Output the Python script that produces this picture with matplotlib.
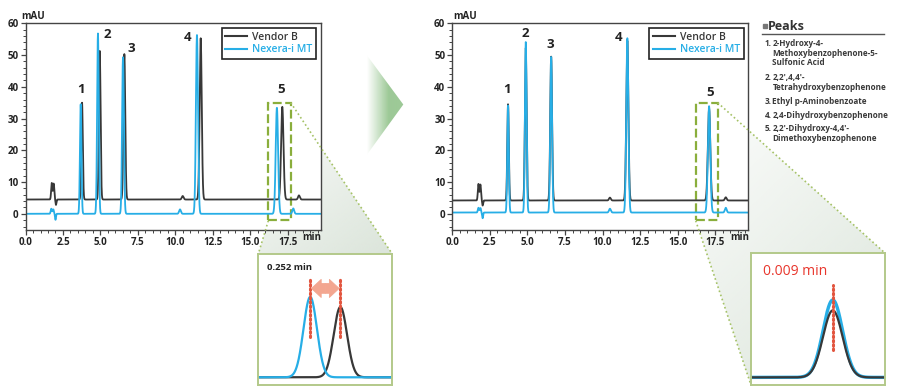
import numpy as np
import matplotlib.pyplot as plt
from matplotlib.patches import Polygon, Rectangle
from matplotlib.lines import Line2D
from matplotlib.ticker import MultipleLocator

plt.rcParams['font.family'] = ['Open Sans', 'DejaVu Sans']
NARROW = ['Liberation Sans Narrow', 'Open Sans', 'DejaVu Sans']

W, H = 900, 392
BLACK = '#383838'
BLUE = '#27aee6'
GREEN = '#8aae3c'
RED = '#e2553f'

# ---- data (retention time min, height mAU) ----
peak_labels = ['1', '2', '3', '4', '5']
peak_w = [0.05, 0.055, 0.06, 0.07, 0.08]

void_w = [0.04, 0.04, 0.03]
minor_w = [0.06, 0.06]

# left: Vendor B vs Nexera-i MT (before method transfer)
left_vb_base = 4.5
left_vb_rt = [3.77, 4.95, 6.59, 11.68, 17.12]
left_vb_h = [30.5, 46.8, 45.8, 50.8, 29.2]
left_vb_void_rt = [1.75, 1.88, 2.03]
left_vb_void_h = [5.2, 5.0, -1.7]
left_vb_minor_rt = [10.48, 18.23]
left_vb_minor_h = [1.1, 1.3]

left_nx_base = 0.0
left_nx_rt = [3.68, 4.83, 6.50, 11.43, 16.76]
left_nx_h = [34.5, 56.8, 49.3, 56.3, 33.4]
left_nx_void_rt = [1.72, 1.85, 2.00]
left_nx_void_h = [1.6, 1.4, -1.9]
left_nx_minor_rt = [10.30, 17.85]
left_nx_minor_h = [1.4, 1.7]

# right: after method transfer
right_vb_base = 4.2
right_vb_rt = [3.71, 4.89, 6.58, 11.65, 17.09]
right_vb_h = [30.3, 48.0, 45.3, 50.3, 29.0]
right_vb_void_rt = [1.74, 1.87, 2.02]
right_vb_void_h = [5.2, 5.0, -1.6]
right_vb_minor_rt = [10.49, 18.20]
right_vb_minor_h = [0.9, 1.0]

right_nx_base = 0.4
right_nx_rt = [3.71, 4.89, 6.58, 11.65, 17.09]
right_nx_h = [33.7, 53.7, 49.0, 54.9, 33.5]
right_nx_void_rt = [1.74, 1.87, 2.02]
right_nx_void_h = [1.5, 1.4, -1.8]
right_nx_minor_rt = [10.49, 18.20]
right_nx_minor_h = [1.2, 1.5]

# peak number label positions (min, mAU)
left_lab_x = [3.70, 5.43, 7.03, 10.83, 17.03]
left_lab_y = [39.3, 56.6, 52.2, 55.4, 39.0]
right_lab_x = [3.63, 4.87, 6.53, 11.07, 17.13]
right_lab_y = [39.2, 56.9, 53.2, 55.5, 38.1]

shift_before = '0.252 min'
shift_after = '0.009 min'

peak_names = [
    ['1.', '2-Hydroxy-4-', 'Methoxybenzophenone-5-', 'Sulfonic Acid'],
    ['2.', '2,2\u2032,4,4\u2032-', 'Tetrahydroxybenzophenone'],
    ['3.', 'Ethyl p-Aminobenzoate'],
    ['4.', '2,4-Dihydroxybenzophenone'],
    ['5.', '2,2\u2032-Dihydroxy-4,4\u2032-', 'Dimethoxybenzophenone'],
]

t = np.linspace(0, 19.7, 8000)


def trace(x, base, groups):
    y = np.full_like(x, base)
    for rts, hs, ws in groups:
        for r, h, w in zip(rts, hs, ws):
            y = y + h * np.exp(-0.5 * ((x - r) / w) ** 2)
    return y


def frac(x0, y0, x1, y1):
    return [x0 / W, 1 - y1 / H, (x1 - x0) / W, (y1 - y0) / H]


fig = plt.figure(figsize=(9, 3.92), dpi=100)

# background layer in pixel coordinates
bg = fig.add_axes([0, 0, 1, 1], zorder=0)
bg.set_xlim(0, W)
bg.set_ylim(H, 0)
bg.axis('off')


def gradient_fill(ax, pts, color, extent, direction='diag', a0=0.0, a1=1.0):
    poly = Polygon(pts, closed=True, facecolor='none', edgecolor='none')
    ax.add_patch(poly)
    n = 200
    gx, gy = np.meshgrid(np.linspace(0, 1, n), np.linspace(0, 1, n))
    if direction == 'x':
        g = np.clip(gx * 1.7, 0, 1)
    else:
        g = 0.4 * gx + 0.6 * gy
    rgba = np.zeros((n, n, 4))
    rgba[..., :3] = plt.matplotlib.colors.to_rgb(color)
    rgba[..., 3] = a0 + (a1 - a0) * g
    im = ax.imshow(rgba, extent=extent, origin='upper', aspect='auto', interpolation='bilinear')
    im.set_clip_path(poly)


# zoom funnels
gradient_fill(bg, [(268.3, 220.7), (258.3, 254), (392.3, 254), (290.7, 102.7)],
              '#d9e3d8', (255, 395, 254, 100), a0=0.05, a1=0.95)
gradient_fill(bg, [(695.7, 220.7), (751, 385), (751, 253.3), (885.3, 253.3), (717.7, 102.7)],
              '#d9e3d8', (690, 888, 385, 100), a0=0.05, a1=0.95)
# centre arrow
gradient_fill(bg, [(366.7, 55), (403.3, 104.5), (366.7, 155)],
              '#9dc997', (366.7, 403.3, 155, 55), direction='x')


def chart(pos, vb, nx, lab_x, lab_y):
    ax = fig.add_axes(frac(*pos), zorder=1)
    ax.set_facecolor('white')
    ax.plot(t, trace(t, *vb), color=BLACK, lw=1.3)
    ax.plot(t, trace(t, *nx), color=BLUE, lw=1.3)
    ax.set_xlim(0, 19.7)
    ax.set_ylim(-5.1, 60)
    ax.xaxis.set_minor_locator(MultipleLocator(0.5))
    ax.yaxis.set_major_locator(MultipleLocator(10))
    ax.yaxis.set_minor_locator(MultipleLocator(2))
    ax.set_xticks(np.arange(0, 17.6, 2.5))
    ax.set_xticklabels(['%.1f' % v for v in np.arange(0, 17.6, 2.5)])
    for s in ax.spines.values():
        s.set_color('#444444')
        s.set_linewidth(1.0)
    ax.tick_params(which='major', length=3.5, width=0.9, pad=1.5, colors='#444444',
                   labelsize=7, labelcolor='#222222')
    ax.tick_params(which='minor', length=2, width=0.7, colors='#444444')
    for lb in ax.get_xticklabels() + ax.get_yticklabels():
        lb.set_fontweight('bold')
    for s, x, y in zip(peak_labels, lab_x, lab_y):
        ax.text(x, y, s, ha='center', va='center', fontsize=9.5,
                fontweight='bold', color='#222222')
    ax.add_patch(Rectangle((16.2, -2.1), 1.48, 37.1, fill=False, edgecolor=GREEN,
                           lw=1.6, ls=(0, (4, 1.6))))
    handles = [Line2D([], [], color=BLACK, lw=1.5), Line2D([], [], color=BLUE, lw=1.5)]
    leg = ax.legend(handles, ['Vendor B', 'Nexera-i MT'], loc='upper right',
                    fontsize=7.5, labelcolor=[BLACK, BLUE], fancybox=False,
                    framealpha=1, edgecolor='#222222', borderpad=0.35,
                    labelspacing=0.15, handlelength=2.1, handletextpad=0.5,
                    borderaxespad=0.45)
    leg.get_frame().set_linewidth(1.2)
    for tx in leg.get_texts():
        tx.set_fontweight('semibold')
    return ax


ax_l = chart((25.5, 23.3, 321, 230),
             (left_vb_base, [(left_vb_rt, left_vb_h, peak_w),
                             (left_vb_void_rt, left_vb_void_h, void_w),
                             (left_vb_minor_rt, left_vb_minor_h, minor_w)]),
             (left_nx_base, [(left_nx_rt, left_nx_h, peak_w),
                             (left_nx_void_rt, left_nx_void_h, void_w),
                             (left_nx_minor_rt, left_nx_minor_h, minor_w)]),
             left_lab_x, left_lab_y)
ax_r = chart((452.3, 23.3, 748.3, 230),
             (right_vb_base, [(right_vb_rt, right_vb_h, peak_w),
                              (right_vb_void_rt, right_vb_void_h, void_w),
                              (right_vb_minor_rt, right_vb_minor_h, minor_w)]),
             (right_nx_base, [(right_nx_rt, right_nx_h, peak_w),
                              (right_nx_void_rt, right_nx_void_h, void_w),
                              (right_nx_minor_rt, right_nx_minor_h, minor_w)]),
             right_lab_x, right_lab_y)

# axis unit labels
for x in (33, 465):
    bg.text(x, 16.5, 'mAU', ha='center', va='center', fontsize=7,
            fontweight='bold', color='#222222')
for x in (312, 740):
    bg.text(x, 237.5, 'min', ha='center', va='center', fontsize=7,
            fontweight='bold', color='#222222')

# dotted funnel edges drawn over the charts
ov = fig.add_axes([0, 0, 1, 1], zorder=2)
ov.set_xlim(0, W)
ov.set_ylim(H, 0)
ov.axis('off')
ov.patch.set_alpha(0)
for (x0, y0), (x1, y1) in [((268.3, 220.7), (258.3, 254)), ((290.7, 102.7), (392.3, 254)),
                           ((695.7, 220.7), (751, 385)), ((717.7, 102.7), (885.3, 253.3))]:
    ov.plot([x0, x1], [y0, y1], color='#a5c267', lw=1.2, ls=(0, (1, 1.6)))


def inset(pos, xlim, ylim):
    ax = fig.add_axes(frac(*pos), zorder=3)
    ax.set_facecolor('white')
    ax.set_xlim(*xlim)
    ax.set_ylim(*ylim)
    ax.set_xticks([])
    ax.set_yticks([])
    for s in ax.spines.values():
        s.set_color('#b3c98a')
        s.set_linewidth(1.4)
    return ax


ti = np.linspace(15.5, 18.5, 3000)

# left inset: retention time gap of peak 5
ins_l = inset((258.3, 254, 392.3, 385), (16.14, 17.74), (-3.2, 51.2))
ins_l.plot(ti, trace(ti, 0, [([left_vb_rt[4]], [left_vb_h[4]], [peak_w[4]])]), color=BLACK, lw=1.6)
ins_l.plot(ti, trace(ti, 0, [([left_nx_rt[4]], [left_nx_h[4]], [peak_w[4]])]), color=BLUE, lw=1.6)
for r in (left_nx_rt[4], left_vb_rt[4]):
    ins_l.plot([r, r], [16.8, 40.7], color=RED, lw=2.2, ls=(0, (0.5, 0.9)),
               dash_capstyle='round')
mid = (left_nx_rt[4] + left_vb_rt[4]) / 2
for end in (left_nx_rt[4] + 0.015, left_vb_rt[4] - 0.015):
    ins_l.annotate('', xy=(end, 36.9), xytext=(mid, 36.9),
                   arrowprops=dict(arrowstyle='simple,head_length=0.7,head_width=1.3,tail_width=0.7',
                                   fc='#f3a690', ec='#f3a690', lw=0.6, shrinkA=0, shrinkB=0))
ins_l.text(0.065, 0.9, shift_before, transform=ins_l.transAxes,
           ha='left', va='center', fontsize=6.8, fontweight='bold', color='#222222')

# right inset: peak 5 after transfer
ins_r = inset((751, 253.3, 885.3, 385), (16.42, 17.52), (-3.3, 53.7))
ins_r.plot(ti, trace(ti, 0, [([right_nx_rt[4]], [right_nx_h[4]], [peak_w[4]])]), color=BLUE, lw=2.4)
ins_r.plot(ti, trace(ti, 0, [([right_vb_rt[4]], [right_vb_h[4]], [peak_w[4]])]), color=BLACK, lw=1.6)
ins_r.plot([right_nx_rt[4]] * 2, [11.8, 40], color=RED, lw=2.2, ls=(0, (0.5, 0.9)),
           dash_capstyle='round')
ins_r.text(0.087, 0.86, shift_after, transform=ins_r.transAxes, ha='left', va='center',
           fontsize=10, color='#e8352b')

# peak list panel
bg.add_patch(Rectangle((762.5, 23.5), 4.2, 4.2, color='#777777'))
bg.text(768, 26.5, 'Peaks', ha='left', va='center', fontsize=9, fontweight='bold',
        family=NARROW, color='#333333')
bg.plot([762, 884], [34.3, 34.3], color='#555555', lw=1.0)
line_y = [[43.3, 53.3, 62.7], [77.7, 87.7], [101], [115], [128.3, 138.3]]
for name, ys in zip(peak_names, line_y):
    bg.text(764.5, ys[0], name[0], ha='left', va='center', fontsize=5.9,
            fontweight='bold', family=NARROW, color='#3a3a3a')
    for s, y in zip(name[1:], ys):
        bg.text(772.5, y, s, ha='left', va='center', fontsize=5.9,
                fontweight='bold', family=NARROW, color='#3a3a3a')

fig.savefig('out.png', dpi=100)
